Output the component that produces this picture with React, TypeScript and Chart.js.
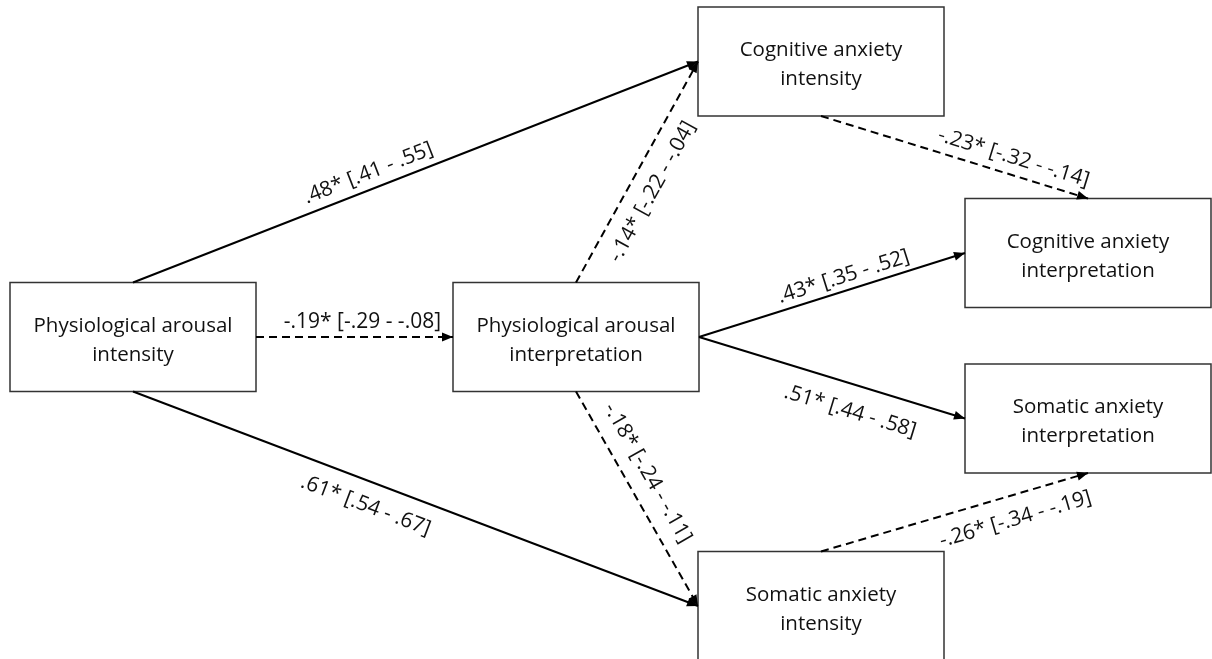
import React, { useEffect, useRef } from "react";
import { Chart, registerables } from "chart.js";

Chart.register(...registerables);

// ---- Data ----
const nodeLabels: string[][] = [
  ["Physiological arousal", "intensity"],
  ["Physiological arousal", "interpretation"],
  ["Cognitive anxiety", "intensity"],
  ["Cognitive anxiety", "interpretation"],
  ["Somatic anxiety", "interpretation"],
  ["Somatic anxiety", "intensity"],
];
const nodeX = [133, 576, 821, 1088, 1088, 821];
const nodeY = [337, 337, 61.5, 253, 418.5, 606];

const pathFrom = [0, 0, 0, 1, 1, 1, 1, 2, 5];
const pathTo = [2, 1, 5, 2, 5, 3, 4, 3, 4];
const pathBeta = [0.48, -0.19, 0.61, -0.14, -0.18, 0.43, 0.51, -0.23, -0.26];
const pathCILow = [0.41, -0.29, 0.54, -0.22, -0.24, 0.35, 0.44, -0.32, -0.34];
const pathCIHigh = [0.55, -0.08, 0.67, -0.04, -0.11, 0.52, 0.58, -0.14, -0.19];
const pathSignificant = [true, true, true, true, true, true, true, true, true];

// ---- Layout / style ----
const fromSide = ["top", "right", "bottom", "top", "bottom", "right", "right", "bottom", "top"];
const toSide = ["left", "left", "left", "left", "left", "left", "left", "top", "bottom"];
const labelT = [0.427, 0.54, 0.427, 0.461, 0.431, 0.559, 0.598, 0.703, 0.703];
const labelOffset = [16, 15, -24, -23, 22, 14, -27, 17, -24];
const BOX_W = 246;
const BOX_H = 109;
const FONT = "'Open Sans', 'Noto Sans', sans-serif";
const BOX_FONT_PX = 20.5;
const LABEL_FONT_PX = 21;

const fmt = (v: number) => (v < 0 ? "-" : "") + Math.abs(v).toFixed(2).replace(/^0/, "");
const pathLabel = (i: number) =>
  `${fmt(pathBeta[i])}${pathSignificant[i] ? "*" : ""} [${fmt(pathCILow[i])} - ${fmt(pathCIHigh[i])}]`;

const anchor = (n: number, side: string) => {
  const x = nodeX[n];
  const y = nodeY[n];
  if (side === "top") return { x, y: y - BOX_H / 2 };
  if (side === "bottom") return { x, y: y + BOX_H / 2 };
  if (side === "left") return { x: x - BOX_W / 2, y };
  return { x: x + BOX_W / 2, y };
};

const diagramPlugin = {
  id: "pathDiagram",
  beforeDatasetsDraw(chart: any) {
    const ctx = chart.ctx as CanvasRenderingContext2D;
    const xs = chart.scales.x;
    const ys = chart.scales.y;
    ctx.save();
    nodeLabels.forEach((lines, i) => {
      const cx = xs.getPixelForValue(nodeX[i]);
      const cy = ys.getPixelForValue(nodeY[i]);
      const l = xs.getPixelForValue(nodeX[i] - BOX_W / 2);
      const r = xs.getPixelForValue(nodeX[i] + BOX_W / 2);
      const t = ys.getPixelForValue(nodeY[i] - BOX_H / 2);
      const b = ys.getPixelForValue(nodeY[i] + BOX_H / 2);
      ctx.fillStyle = "#ffffff";
      ctx.fillRect(l, t, r - l, b - t);
      ctx.strokeStyle = "#333333";
      ctx.lineWidth = 1.5;
      ctx.strokeRect(l, t, r - l, b - t);
      ctx.fillStyle = "#111111";
      ctx.font = `${BOX_FONT_PX}px ${FONT}`;
      ctx.textAlign = "center";
      ctx.textBaseline = "middle";
      ctx.fillText(lines[0], cx, cy - 11);
      ctx.fillText(lines[1], cx, cy + 18);
    });
    ctx.restore();
  },
  afterDatasetsDraw(chart: any) {
    const ctx = chart.ctx as CanvasRenderingContext2D;
    ctx.save();
    chart.data.datasets.forEach((_: any, i: number) => {
      const meta = chart.getDatasetMeta(i);
      const p0 = meta.data[0];
      const p1 = meta.data[1];
      const ang = Math.atan2(p1.y - p0.y, p1.x - p0.x);
      // arrowhead
      const len = 11;
      const hw = 4.5;
      ctx.fillStyle = "#000";
      ctx.beginPath();
      ctx.moveTo(p1.x, p1.y);
      ctx.lineTo(
        p1.x - len * Math.cos(ang) + hw * Math.sin(ang),
        p1.y - len * Math.sin(ang) - hw * Math.cos(ang)
      );
      ctx.lineTo(
        p1.x - len * Math.cos(ang) - hw * Math.sin(ang),
        p1.y - len * Math.sin(ang) + hw * Math.cos(ang)
      );
      ctx.closePath();
      ctx.fill();
      // label
      const t = labelT[i];
      const off = labelOffset[i];
      const px = p0.x + (p1.x - p0.x) * t + off * Math.sin(ang);
      const py = p0.y + (p1.y - p0.y) * t - off * Math.cos(ang);
      ctx.save();
      ctx.translate(px, py);
      ctx.rotate(ang);
      ctx.font = `${LABEL_FONT_PX}px ${FONT}`;
      ctx.fillStyle = "#111111";
      ctx.textAlign = "center";
      ctx.textBaseline = "middle";
      ctx.fillText(pathLabel(i), 0, 0);
      ctx.restore();
    });
    ctx.restore();
  },
};

export default function App() {
  const ref = useRef<HTMLCanvasElement | null>(null);
  useEffect(() => {
    document.body.style.margin = "0";
    if (!ref.current) return;
    const datasets = pathFrom.map((f, i) => {
      const a = anchor(f, fromSide[i]);
      const b = anchor(pathTo[i], toSide[i]);
      return {
        label: pathLabel(i),
        data: [a, b],
        showLine: true,
        borderColor: "#000000",
        borderWidth: 2,
        borderDash: pathBeta[i] < 0 ? [8, 5] : [],
        pointRadius: 0,
        fill: false,
      };
    });
    const chart = new Chart(ref.current, {
      type: "scatter",
      data: { datasets },
      options: {
        animation: false,
        responsive: false,
        events: [],
        layout: { padding: 0 },
        plugins: { legend: { display: false }, tooltip: { enabled: false } },
        scales: {
          x: { type: "linear", min: 0, max: 1212, display: false },
          y: { type: "linear", min: 0, max: 659, reverse: true, display: false },
        },
      },
      plugins: [diagramPlugin],
    } as any);
    return () => chart.destroy();
  }, []);
  return (
    <div style={{ position: "absolute", left: 0, top: 0, width: 1212, height: 659, background: "#fff" }}>
      <canvas ref={ref} width={1212} height={659} style={{ display: "block" }} />
    </div>
  );
}
